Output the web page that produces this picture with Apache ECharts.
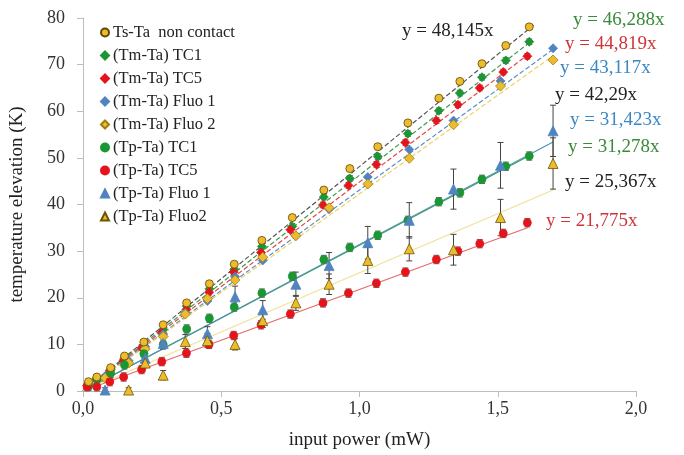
<!DOCTYPE html>
<html>
<head>
<meta charset="utf-8">
<script src="https://cdn.jsdelivr.net/npm/echarts@6/dist/echarts.min.js"></script>
<style>
html,body{margin:0;padding:0;background:#fff;}
#chart{width:684px;height:455px;}
</style>
</head>
<body>
<div id="chart"></div>
<script>
// ---------- DATA ----------
const seriesNames = ['Ts-Ta  non contact','(Tm-Ta) TC1','(Tm-Ta) TC5','(Tm-Ta) Fluo 1','(Tm-Ta) Fluo 2','(Tp-Ta) TC1','(Tp-Ta) TC5','(Tp-Ta) Fluo 1','(Tp-Ta) Fluo2'];

const powerTC1 = [0.02,0.05,0.10,0.15,0.22,0.29,0.375,0.457,0.547,0.647,0.757,0.871,0.965,1.066,1.175,1.287,1.363,1.443,1.529,1.614];
const powerTC5 = [0.015,0.05,0.097,0.147,0.212,0.285,0.374,0.456,0.545,0.644,0.75,0.868,0.96,1.061,1.166,1.278,1.356,1.435,1.52,1.607];
const powerFluo = [0.08,0.165,0.225,0.29,0.37,0.45,0.55,0.65,0.77,0.89,1.03,1.18,1.34,1.51,1.70];

const tsTa     = [2.0,3.0,5.0,7.5,10.5,14.2,18.9,23.0,27.2,32.3,37.2,43.1,47.7,52.4,57.5,62.8,66.4,70.2,74.1,78.1];
const tmTC1    = [1.6,2.8,4.6,7.0,9.8,13.2,18.2,21.9,26.1,31.0,35.3,41.6,45.6,50.3,55.2,60.1,63.9,67.3,70.9,74.9];
const tmTC5    = [1.2,2.4,4.3,6.6,9.3,12.6,17.5,21.2,25.5,29.7,34.6,39.9,44.1,48.6,53.3,58.0,61.4,65.0,68.4,71.8];
const tmFluo1  = [3.2,6.5,9.5,12.2,16.8,19.3,24.5,28.0,33.3,39.0,45.9,51.8,58.0,66.5,73.5];
const tmFluo2  = [2.8,6.0,9.0,11.7,16.5,19.8,23.8,28.7,33.3,39.3,44.4,49.9,57.1,65.4,71.0];

const tpTC1    = [1.0,2.5,3.8,5.6,8.0,10.0,13.3,15.6,18.0,21.0,24.6,28.2,30.8,33.4,36.6,40.6,42.5,45.4,48.2,50.4];
const tpTC5    = [0.9,0.9,2.0,3.0,4.6,6.3,8.1,10.0,11.9,14.2,16.5,18.9,21.0,23.1,25.5,28.2,30.0,31.6,33.8,36.1];
const powerTpFluo1 = [0.08,0.225,0.29,0.45,0.55,0.65,0.77,0.89,1.03,1.18,1.34,1.51,1.70];
const tpFluo1  = [0.2,7.0,10.2,12.3,20.2,17.4,22.9,26.9,31.8,36.6,43.3,48.4,55.8];
const errTpFluo1 = [0.5,1.0,1.2,1.5,2.3,2.0,2.6,2.8,3.5,3.8,4.3,4.9,5.5];
const powerTpFluo2 = [0.165,0.225,0.29,0.37,0.45,0.55,0.65,0.77,0.89,1.03,1.18,1.34,1.51,1.70];
const tpFluo2  = [0.2,6.0,3.4,10.6,10.8,10.0,15.1,18.9,22.9,28.0,30.5,30.3,37.2,48.8];
const errTpFluo2 = [0.5,1.0,1.0,1.5,1.5,1.2,1.5,1.6,2.2,2.8,2.6,3.3,3.9,5.5];
const errTmTC = 0.6;
const errTpTC = 0.9;

// fitted slopes (from the equations on the chart) and the end of each trend line
const slopes  = [48.145,46.288,44.819,43.117,42.29,31.278,21.775,31.423,25.367];
const fitEnd  = [1.63,1.62,1.61,1.70,1.70,1.61,1.61,1.70,1.70];
const eqTexts = ['y = 48,145x','y = 46,288x','y = 44,819x','y = 43,117x','y = 42,29x','y = 31,278x','y = 21,775x','y = 31,423x','y = 25,367x'];

// ---------- STYLES ----------
const FONT = '"Liberation Serif","Times New Roman",serif';
const GREEN = '#1A9632', RED = '#E5141C', BLUE = '#4F84C0', GOLD = '#EDBB2E';
const markerStyle = [
  {symbol:'circle', size:8, color:GOLD, border:'#5E4800'},
  {symbol:'diamond', size:9, color:GREEN, border:GREEN},
  {symbol:'diamond', size:9, color:RED, border:RED},
  {symbol:'diamond', size:9, color:BLUE, border:BLUE},
  {symbol:'diamond', size:10, color:GOLD, border:'#A07C10'},
  {symbol:'circle', size:8, color:GREEN, border:GREEN},
  {symbol:'circle', size:8, color:RED, border:RED},
  {symbol:'triangle', size:10, color:BLUE, border:BLUE},
  {symbol:'triangle', size:10, color:GOLD, border:'#6E5500'}
];
const fitStyle = [
  {color:'#555555', type:'dashed'},
  {color:'#3C9A4A', type:'dashed'},
  {color:'#E04848', type:'dashed'},
  {color:'#5A90CA', type:'dashed'},
  {color:'#EED264', type:'dashed'},
  {color:'#3A9A58', type:'solid'},
  {color:'#E36A6A', type:'solid'},
  {color:'#4C98B0', type:'solid'},
  {color:'#F1E196', type:'solid'}
];
const eqColor = ['#222222','#3A8A3A','#D0343A','#3A88C4','#222222','#3A8A3A','#D0343A','#3A88C4','#222222'];
const eqPos = [[402,33],[573,22],[565,46],[560,70],[555,97],[568,149],[546,223],[570,122],[565,184]];

const pointSets = [
  [powerTC1, tsTa],[powerTC1, tmTC1],[powerTC5, tmTC5],[powerFluo, tmFluo1],[powerFluo, tmFluo2],
  [powerTC1, tpTC1],[powerTC5, tpTC5],[powerTpFluo1, tpFluo1],[powerTpFluo2, tpFluo2]
];
const errSets = [null, errTmTC, errTmTC, null, null, errTpTC, errTpTC, errTpFluo1, errTpFluo2];

function pairs(xs, ys){ return xs.map((x,i)=>[x, ys[i]]); }

const series = [];
// trend lines
slopes.forEach((s,i)=>{
  series.push({
    type:'line', name:'fit'+i, silent:true, symbol:'none', z:2,
    data:[[0,0],[fitEnd[i], s*fitEnd[i]]],
    lineStyle:{color:fitStyle[i].color, type:fitStyle[i].type, width:1.2},
    animation:false
  });
});
// error bars
errSets.forEach((e,i)=>{
  if(e===null) return;
  const [xs, ys] = pointSets[i];
  const data = xs.map((x,k)=>{ const ee = Array.isArray(e)? e[k] : e; return [x, ys[k]-ee, ys[k]+ee]; });
  const big = Array.isArray(e);
  series.push({
    type:'custom', name:'err'+i, silent:true, z:3, animation:false,
    renderItem:(params, api)=>{
      const x = api.value(0), lo = api.value(1), hi = api.value(2);
      const a = api.coord([x, lo]), b = api.coord([x, hi]);
      const w = 3;
      const st = {stroke: big ? '#444' : '#666', lineWidth: 1};
      return {type:'group', children:[
        {type:'line', shape:{x1:a[0],y1:a[1],x2:b[0],y2:b[1]}, style:st},
        {type:'line', shape:{x1:a[0]-w,y1:a[1],x2:a[0]+w,y2:a[1]}, style:st},
        {type:'line', shape:{x1:b[0]-w,y1:b[1],x2:b[0]+w,y2:b[1]}, style:st}
      ]};
    },
    encode:{x:0, y:[1,2]},
    data:data
  });
});
// scatter points
pointSets.forEach(([xs, ys], i)=>{
  const m = markerStyle[i];
  series.push({
    type:'scatter', name:seriesNames[i], symbol:m.symbol, symbolSize:m.size, z:5 + (i===0?3:0),
    itemStyle:{color:m.color, borderColor:m.border, borderWidth:0.8, opacity:1},
    data:pairs(xs, ys), animation:false
  });
});

const graphics = eqTexts.map((t,i)=>({
  type:'text', left:eqPos[i][0], top:eqPos[i][1]-11,
  style:{text:t, fill:eqColor[i], font:'19px ' + FONT}
}));

const chart = echarts.init(document.getElementById('chart'), null, {renderer:'canvas'});
chart.setOption({
  backgroundColor:'#ffffff',
  animation:false,
  grid:{left:80, right:48, top:18, bottom:60},
  legend:{
    data:seriesNames.map((n,i)=>({name:n, icon:markerStyle[i].symbol})),
    orient:'vertical', left:95, top:19, itemWidth:8, itemHeight:8, itemGap:6,
    selectedMode:false,
    textStyle:{fontFamily:FONT, fontSize:16.5, color:'#222', lineHeight:17, padding:[0,0,0,-1]}
  },
  xAxis:{
    type:'value', min:0, max:2, interval:0.5,
    name:'input power (mW)', nameLocation:'middle', nameGap:40,
    nameTextStyle:{fontFamily:FONT, fontSize:19, color:'#222'},
    axisLine:{show:true, lineStyle:{color:'#BDBDBD'}},
    axisTick:{show:true, inside:false, length:6, lineStyle:{color:'#BDBDBD'}},
    axisLabel:{fontFamily:FONT, fontSize:18, color:'#333', margin:9,
      formatter:v=>v.toFixed(1).replace('.', ',')},
    splitLine:{show:false}
  },
  yAxis:{
    type:'value', min:0, max:80, interval:10,
    name:'temperature elevation (K)', nameLocation:'middle', nameGap:56, nameRotate:90,
    nameTextStyle:{fontFamily:FONT, fontSize:19, color:'#222'},
    axisLine:{show:true, lineStyle:{color:'#BDBDBD'}},
    axisTick:{show:true, inside:false, length:6, lineStyle:{color:'#BDBDBD'}},
    axisLabel:{fontFamily:FONT, fontSize:18, color:'#333', margin:18},
    splitLine:{show:false}
  },
  graphic:graphics,
  series:series
});
</script>
</body>
</html>
